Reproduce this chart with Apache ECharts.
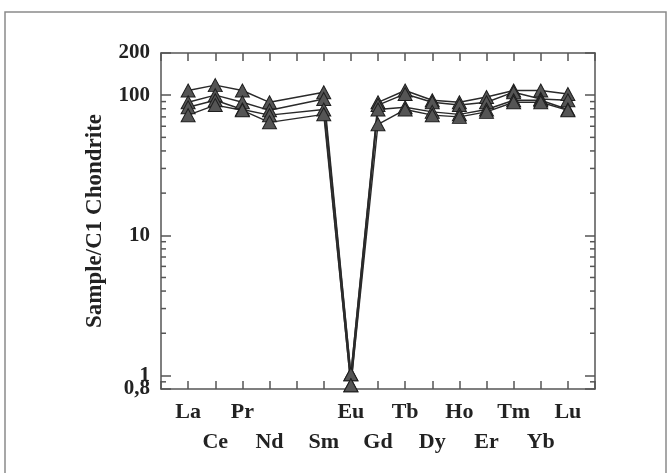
<!DOCTYPE html>
<html>
<head>
<meta charset="utf-8">
<script src="https://cdn.jsdelivr.net/npm/echarts@6/dist/echarts.min.js"></script>
<style>
  html, body { margin: 0; padding: 0; background: #fff; }
  #chart { width: 671px; height: 473px; }
</style>
</head>
<body>
<div id="chart"></div>
<script>
// REE elements in order (Pm has no analysis, label left blank)
const elements = ['La', 'Ce', 'Pr', 'Nd', 'Pm', 'Sm', 'Eu', 'Gd', 'Tb', 'Dy', 'Ho', 'Er', 'Tm', 'Yb', 'Lu'];
const elementLabels = ['La', 'Ce', 'Pr', 'Nd', '', 'Sm', 'Eu', 'Gd', 'Tb', 'Dy', 'Ho', 'Er', 'Tm', 'Yb', 'Lu'];

// chondrite-normalised concentrations, one array per sample
const sample1 = [108, 118, 108, 89, null, 105, 1.02, 89, 108, 92, 89, 97, 108, 108, 102];
const sample2 = [89, 100, 89, 78, null, 94, 1.02, 85, 102, 89, 85, 89, 105, 94, 92];
const sample3 = [82, 92, 79, 72, null, 79, 0.85, 79, 82, 76, 73, 79, 92, 92, 79];
const sample4 = [72, 85, 78, 64, null, 73, 0.85, 62, 79, 72, 70, 76, 89, 89, 78];

// y-axis range and the log minor tick values
const yMin = 0.8;
const yMax = 200;
const minorTicks = [0.9, 2, 3, 4, 5, 6, 7, 8, 9, 20, 30, 40, 50, 60, 70, 80, 90];

const serifFont = '"Liberation Serif", "Times New Roman", serif';
const axisColor = '#555';

function toPairs(values) {
  const out = [];
  values.forEach((v, i) => { if (v !== null) out.push([i, v]); });
  return out;
}

function sampleSeries(name, values) {
  return {
    name: name,
    type: 'line',
    data: toPairs(values),
    symbol: 'triangle',
    symbolSize: [14, 13],
    itemStyle: { color: '#555', borderColor: '#1e1e1e', borderWidth: 1 },
    lineStyle: { color: '#2a2a2a', width: 1.4 },
    emphasis: { disabled: true },
    z: 3
  };
}

const xBase = {
  type: 'value',
  min: -1,
  max: 15,
  interval: 1,
  splitLine: { show: false },
  axisLine: { onZero: false, lineStyle: { color: axisColor, width: 1.5 } },
  axisTick: { inside: true, length: 8, lineStyle: { color: axisColor, width: 1.5 } }
};

const yBase = {
  type: 'log',
  logBase: 10,
  min: yMin,
  max: yMax,
  splitLine: { show: false },
  axisLine: { onZero: false, lineStyle: { color: axisColor, width: 1.5 } },
  axisTick: { inside: true, length: 10, lineStyle: { color: axisColor, width: 1.5 } }
};

const yLabelStyle = {
  margin: 11,
  fontFamily: serifFont,
  fontWeight: 'bold',
  fontSize: 21,
  color: '#222',
  hideOverlap: false
};

const isOne = v => Math.abs(v - 1) < 1e-6;

const chart = echarts.init(document.getElementById('chart'));
chart.setOption({
  animation: false,
  backgroundColor: '#fff',
  grid: { left: 161, top: 53, right: 76, bottom: 84 },
  graphic: [{
    type: 'rect',
    shape: { x: 5, y: 12, width: 661, height: 470 },
    style: { fill: 'none', stroke: '#8a8a8a', lineWidth: 1.5 },
    silent: true
  }],
  xAxis: [
    Object.assign({}, xBase, {
      position: 'bottom',
      axisLabel: {
        margin: 8,
        fontFamily: serifFont,
        fontWeight: 'bold',
        fontSize: 22,
        lineHeight: 30,
        color: '#222',
        showMinLabel: true,
        showMaxLabel: true,
        formatter: function (v) {
          const i = Math.round(v);
          if (i < 0 || i >= elementLabels.length) return '';
          return (i % 2 === 1 ? '\n' : '') + elementLabels[i];
        }
      }
    }),
    Object.assign({}, xBase, { position: 'top', axisLabel: { show: false } })
  ],
  yAxis: [
    // main left axis: 0,8 / 10 / 100 / 200
    Object.assign({}, yBase, {
      position: 'left',
      name: 'Sample/C1 Chondrite',
      nameLocation: 'middle',
      nameGap: 54,
      nameTextStyle: { fontFamily: serifFont, fontWeight: 'bold', fontSize: 23, color: '#222' },
      axisLabel: Object.assign({}, yLabelStyle, {
        showMinLabel: true,
        showMaxLabel: true,
        formatter: function (v) {
          if (Math.abs(v - 0.8) < 1e-6) return '0,8';
          if (isOne(v)) return '';
          return String(Math.round(v));
        }
      })
    }),
    // right frame axis
    Object.assign({}, yBase, { position: 'right', axisLabel: { show: false } }),
    // companion left axis carrying the "1" label, which sits tight above 0,8
    Object.assign({}, yBase, {
      position: 'left',
      axisLine: { show: false, onZero: false },
      axisTick: { show: false },
      axisLabel: Object.assign({}, yLabelStyle, {
        showMinLabel: false,
        showMaxLabel: false,
        formatter: function (v) { return isOne(v) ? '1' : ''; }
      })
    })
  ],
  series: [
    {
      name: 'minor ticks',
      type: 'custom',
      xAxisIndex: 0,
      yAxisIndex: 0,
      silent: true,
      clip: false,
      data: minorTicks.map(v => [v]),
      encode: { y: 0 },
      renderItem: function (params, api) {
        const v = api.value(0);
        const left = api.coord([-1, v]);
        const right = api.coord([15, v]);
        const style = { stroke: axisColor, lineWidth: 1.5 };
        return {
          type: 'group',
          children: [
            { type: 'line', shape: { x1: left[0], y1: left[1], x2: left[0] + 5, y2: left[1] }, style: style },
            { type: 'line', shape: { x1: right[0], y1: right[1], x2: right[0] - 5, y2: right[1] }, style: style }
          ]
        };
      },
      z: 1
    },
    sampleSeries('Sample 1', sample1),
    sampleSeries('Sample 2', sample2),
    sampleSeries('Sample 3', sample3),
    sampleSeries('Sample 4', sample4)
  ]
});
</script>
</body>
</html>
